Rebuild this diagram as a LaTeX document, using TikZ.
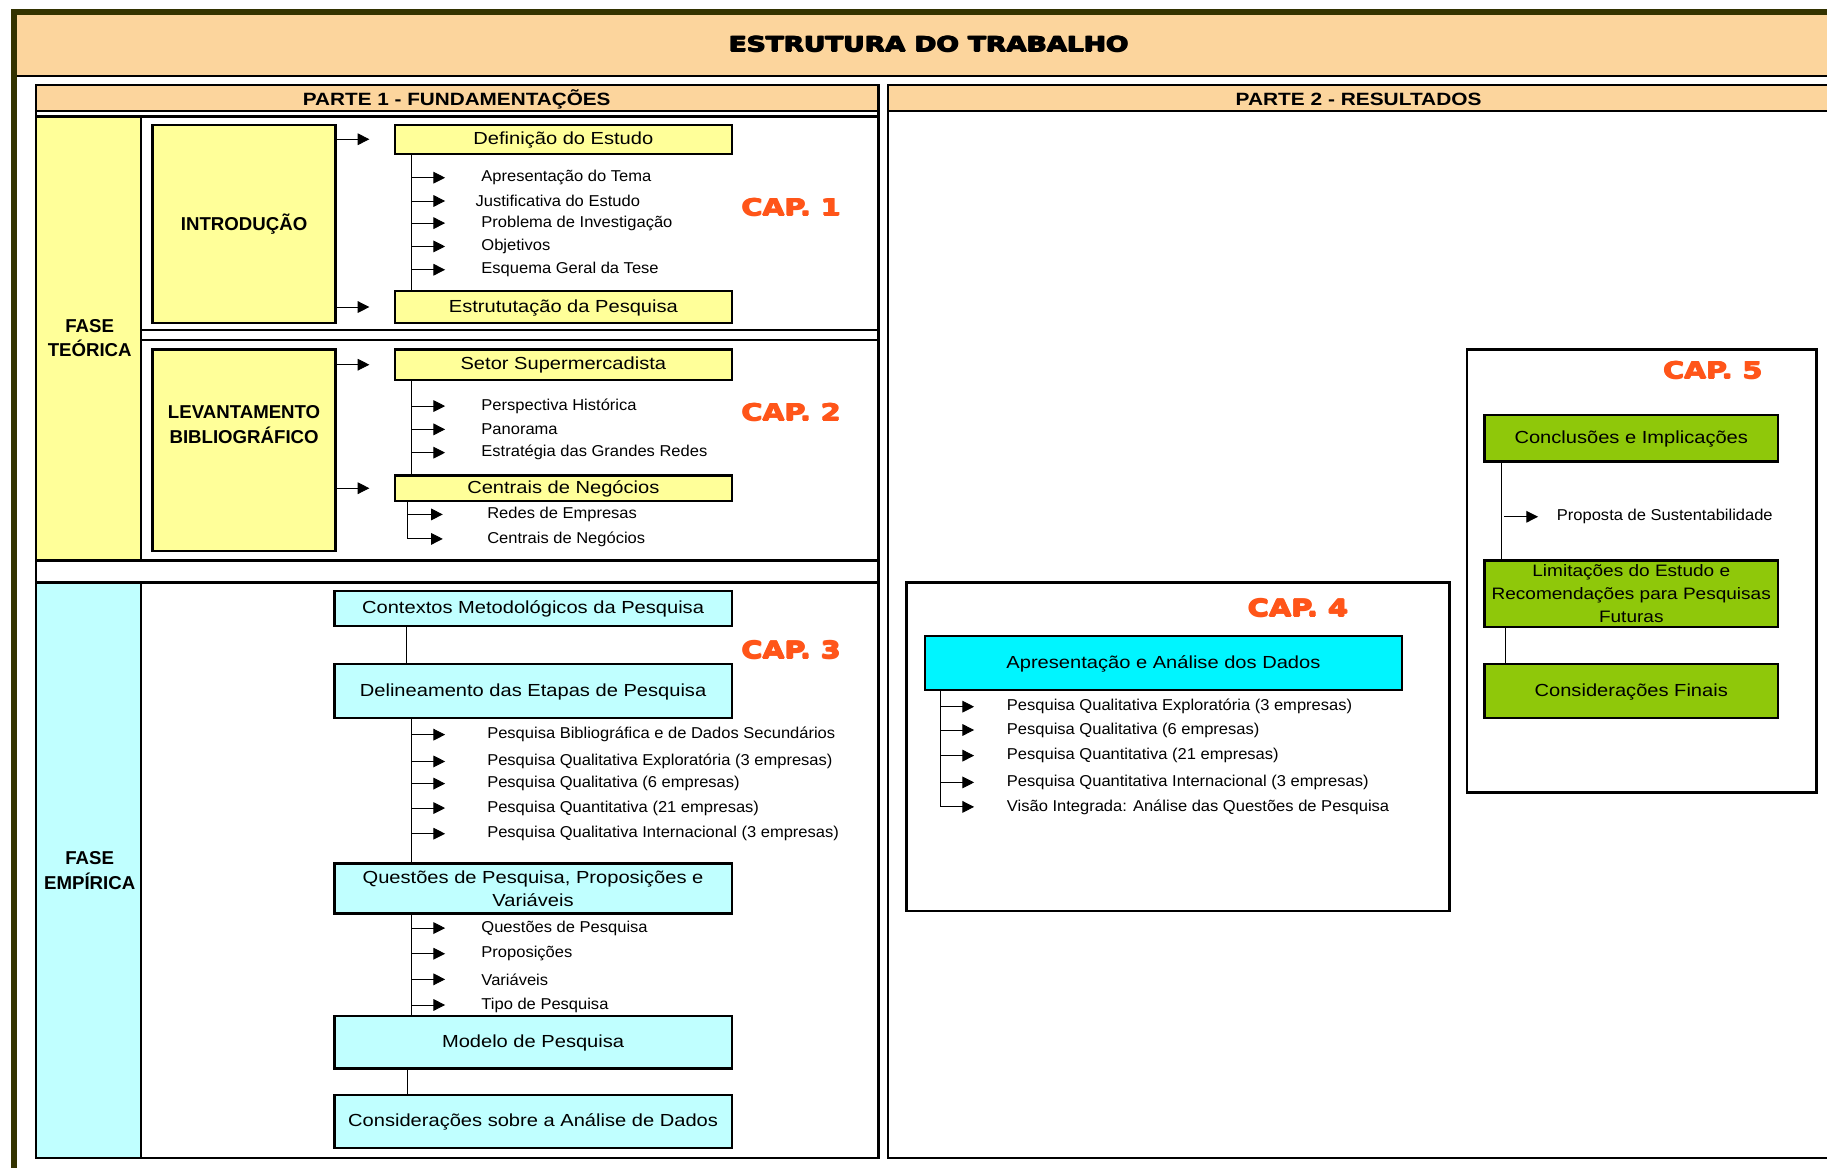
\documentclass[tikz,border=0pt]{standalone}
\usepackage{fontspec}
\usepackage{graphicx}
\setmainfont{Liberation Sans}
\newfontfamily\hfont{Liberation Sans}[FakeStretch=1.15]
\newfontfamily\ifont{Liberation Sans}[FakeStretch=1.05]
\newfontfamily\heavy{DejaVu Sans Bold}
\usetikzlibrary{arrows.meta}

\definecolor{frame}{RGB}{51,51,0}
\definecolor{hdr}{RGB}{252,213,157}
\definecolor{yel}{RGB}{255,255,153}
\definecolor{lcyan}{RGB}{192,255,255}
\definecolor{bcyan}{RGB}{0,245,255}
\definecolor{grn}{RGB}{143,200,10}
\definecolor{capred}{RGB}{255,85,25}

% thicken a box by overprinting shifted copies (#1 = offset)
\newcommand\smear[2]{\setbox4=\hbox{#2}%
  \rlap{\copy4}\rlap{\kern#1\copy4}%
  \rlap{\kern0.5\dimexpr#1\relax\raise0.5\dimexpr#1\relax\copy4}%
  \kern0.5\dimexpr#1\relax\lower0.5\dimexpr#1\relax\copy4\kern0.5\dimexpr#1\relax}
% scale a one-line text to a given width and cap height
\newcommand\fitto[4]{{#3\setbox0=\hbox{#4}\setbox2=\hbox{H}%
  \pgfmathsetmacro\fsx{#1/\the\wd0}\pgfmathsetmacro\fsy{#2/\the\ht2}%
  \scalebox{\fsx}[\fsy]{\box0}}}

\begin{document}
\begin{tikzpicture}[x=1pt,y=-1pt,
  box/.style={draw=black, line width=2pt},
  hbox/.style={box, font=\hfont\fontsize{15}{19.5}\selectfont, align=center, inner sep=0pt},
  hbox1/.style={hbox, text height=1.05em, text depth=0.15em},
  item/.style={anchor=west, inner sep=0pt, font=\ifont\fontsize{13.5}{16}\selectfont},
  lab/.style={font=\bfseries\fontsize{16}{21}\selectfont, align=center, inner sep=0pt},
  caplab/.style={inner sep=0pt, text=capred},
  conn/.style={line width=0.8pt},
  arr/.style={conn, -{Triangle[length=10pt,width=10pt]}}]

\useasboundingbox (0,0) rectangle (1568,1002);
\clip (0,0) rectangle (1568,1002);
\fill[white] (0,0) rectangle (1568,1002);

% outer frame and title band
\fill[hdr] (14,12) rectangle (1590,65);
\draw[line width=1.8pt] (14,65) -- (1590,65);
\draw[frame, line width=5pt] (12,1010) -- (12,10) -- (1590,10);
\node[inner sep=0pt] (title) at (797,38)
  {\smear{1.3pt}{\fitto{343}{13}{\heavy\fontsize{16}{16}\selectfont}{ESTRUTURA DO TRABALHO}}};

% part 1 container
\draw[box] (31,73) rectangle (754,994);
\filldraw[box, fill=hdr] (31,73) rectangle (754,95);
\node[inner sep=0pt] (p1) at (392,85)
  {\fitto{264}{10.5}{\bfseries\fontsize{14}{14}\selectfont}{PARTE 1 - FUNDAMENTAÇÕES}};

% part 2 container
\draw[box] (762,73) rectangle (1590,994);
\filldraw[box, fill=hdr] (762,73) rectangle (1590,95);
\node[inner sep=0pt] (p2) at (1166,85)
  {\fitto{211}{10.5}{\bfseries\fontsize{14}{14}\selectfont}{PARTE 2 - RESULTADOS}};

% theoretical phase
\filldraw[box, fill=yel] (31,100) rectangle (121,481);
\draw[box] (121,100) rectangle (754,283);
\draw[box] (121,292) rectangle (754,481);
\node[lab] (fteo) at (77,290) {FASE\\TEÓRICA};

% empirical phase
\filldraw[box, fill=lcyan] (31,500) rectangle (121,994);
\draw[box] (121,500) rectangle (754,994);
\node[lab] (femp) at (77,747) {FASE\\EMPÍRICA};

% common x positions of spines and arrow tips
\coordinate (s1) at (353,0);
\coordinate (t1) at (382,0);
\coordinate (s2) at (350,0);
\coordinate (t2) at (380,0);
\coordinate (s3) at (349,0);

% ---- chapter 1
\node[box, fill=yel, minimum width=157, minimum height=170, lab] (intro) at (209.5,192) {INTRODUÇÃO};
\node[hbox1, fill=yel, minimum width=289, minimum height=25] (defi) at (483.5,119.5) {Definição do Estudo};
\node[hbox1, fill=yel, minimum width=289, minimum height=27] (estr) at (483.5,263.5) {Estrututação da Pesquisa};
\draw[arr] (intro.east |- defi) -- ([xshift=-21pt]defi.west);
\draw[arr] (intro.east |- estr) -- ([xshift=-21pt]estr.west);
\draw[conn] (defi.south -| s1) -- (estr.north -| s1);
\node[item] (i11) at (413,152.5) {Apresentação do Tema};
\node[item] (i12) at (408,172.5) {Justificativa do Estudo};
\node[item] (i13) at (413,191.5) {Problema de Investigação};
\node[item] (i14) at (413,211.5) {Objetivos};
\node[item] (i15) at (413,231.5) {Esquema Geral da Tese};
\foreach \n in {i11,i12,i13,i14,i15} \draw[arr] (\n -| s1) -- (\n -| t1);
\node[caplab] (cap1) at (679,178) {\smear{1.2pt}{\fitto{85}{14.5}{\heavy\fontsize{20}{20}\selectfont}{CAP. 1}}};

% ---- chapter 2
\node[box, fill=yel, minimum width=157, minimum height=173] (levbox) at (209.5,386.5) {};
\node[lab] (levtxt) at (209.5,364.5) {LEVANTAMENTO\\BIBLIOGRÁFICO};
\node[hbox1, fill=yel, minimum width=289, minimum height=26] (setor) at (483.5,313) {Setor Supermercadista};
\node[hbox1, fill=yel, minimum width=289, minimum height=22] (centr) at (483.5,419) {Centrais de Negócios};
\draw[arr] (levbox.east |- setor) -- ([xshift=-21pt]setor.west);
\draw[arr] (levbox.east |- centr) -- ([xshift=-21pt]centr.west);
\draw[conn] (setor.south -| s1) -- (centr.north -| s1);
\node[item] (i21) at (413,348.5) {Perspectiva Histórica};
\node[item] (i22) at (413,368.5) {Panorama};
\node[item] (i23) at (413,388.5) {Estratégia das Grandes Redes};
\foreach \n in {i21,i22,i23} \draw[arr] (\n -| s1) -- (\n -| t1);
\node[item] (i24) at (418,441.5) {Redes de Empresas};
\node[item] (i25) at (418,462.5) {Centrais de Negócios};
\draw[conn] (centr.south -| s2) -- (i25 -| s2);
\foreach \n in {i24,i25} \draw[arr] (\n -| s2) -- (\n -| t2);
\node[caplab] (cap2) at (679,354) {\smear{1.2pt}{\fitto{85}{14.5}{\heavy\fontsize{20}{20}\selectfont}{CAP. 2}}};

% ---- chapter 3
\node[hbox1, fill=lcyan, minimum width=341, minimum height=30] (ctx) at (457.5,522) {Contextos Metodológicos da Pesquisa};
\node[hbox1, fill=lcyan, minimum width=341, minimum height=46] (delin) at (457.5,593) {Delineamento das Etapas de Pesquisa};
\node[hbox, fill=lcyan, minimum width=341, minimum height=43] (quest) at (457.5,762.5) {Questões de Pesquisa, Proposições e\\Variáveis};
\node[hbox1, fill=lcyan, minimum width=341, minimum height=45] (model) at (457.5,894.5) {Modelo de Pesquisa};
\node[hbox1, fill=lcyan, minimum width=341, minimum height=45] (consid) at (457.5,962.5) {Considerações sobre a Análise de Dados};
\draw[conn] (ctx.south -| s3) -- (delin.north -| s3);
\draw[conn] (delin.south -| s1) -- (quest.north -| s1);
\draw[conn] (quest.south -| s1) -- (model.north -| s1);
\draw[conn] (model.south -| s2) -- (consid.north -| s2);
\node[item] (i31) at (418,630.5) {Pesquisa Bibliográfica e de Dados Secundários};
\node[item] (i32) at (418,653.5) {Pesquisa Qualitativa Exploratória (3 empresas)};
\node[item] (i33) at (418,672.5) {Pesquisa Qualitativa (6 empresas)};
\node[item] (i34) at (418,693.5) {Pesquisa Quantitativa (21 empresas)};
\node[item] (i35) at (418,715.5) {Pesquisa Qualitativa Internacional (3 empresas)};
\node[item] (i36) at (413,796.5) {Questões de Pesquisa};
\node[item] (i37) at (413,818.5) {Proposições};
\node[item] (i38) at (413,840.5) {Variáveis};
\node[item] (i39) at (413,862.5) {Tipo de Pesquisa};
\foreach \n in {i31,i32,i33,i34,i35,i36,i37,i38,i39} \draw[arr] (\n -| s1) -- (\n -| t1);
\node[caplab] (cap3) at (679,558) {\smear{1.2pt}{\fitto{85}{14.5}{\heavy\fontsize{20}{20}\selectfont}{CAP. 3}}};

% ---- chapter 4
\draw[box] (778,500) rectangle (1244,782);
\node[caplab] (cap4) at (1114,522) {\smear{1.2pt}{\fitto{86}{14.5}{\heavy\fontsize{20}{20}\selectfont}{CAP. 4}}};
\node[hbox1, fill=bcyan, minimum width=409, minimum height=46] (apres) at (998.5,569) {Apresentação e Análise dos Dados};
\coordinate (s4) at (807,0);
\coordinate (t4) at (836,0);
\node[item] (i41) at (864,606.5) {Pesquisa Qualitativa Exploratória (3 empresas)};
\node[item] (i42) at (864,626.5) {Pesquisa Qualitativa (6 empresas)};
\node[item] (i43) at (864,648.5) {Pesquisa Quantitativa (21 empresas)};
\node[item] (i44) at (864,671.5) {Pesquisa Quantitativa Internacional (3 empresas)};
\node[item] (i45) at (864,692.5) {Visão Integrada: Análise das Questões de Pesquisa};
\draw[conn] (apres.south -| s4) -- (i45 -| s4);
\foreach \n in {i41,i42,i43,i44,i45} \draw[arr] (\n -| s4) -- (\n -| t4);

% ---- chapter 5
\draw[box] (1259,300) rectangle (1559,680);
\node[caplab] (cap5) at (1470,318) {\smear{1.2pt}{\fitto{85}{14.5}{\heavy\fontsize{20}{20}\selectfont}{CAP. 5}}};
\node[hbox1, fill=grn, minimum width=252, minimum height=40] (concl) at (1400,376) {Conclusões e Implicações};
\node[hbox, fill=grn, minimum width=252, minimum height=57, font=\hfont\fontsize{14.2}{19.5}\selectfont] (limit) at (1400,509.5) {Limitações do Estudo e\\Recomendações para Pesquisas\\Futuras};
\node[hbox1, fill=grn, minimum width=252, minimum height=46] (consf) at (1400,593) {Considerações Finais};
\coordinate (s5) at (1289,0);
\coordinate (s6) at (1292,0);
\coordinate (t5) at (1320,0);
\draw[conn] (concl.south -| s5) -- (limit.north -| s5);
\draw[conn] (limit.south -| s6) -- (consf.north -| s6);
\node[item] (i51) at (1336,443.5) {Proposta de Sustentabilidade};
\draw[arr] ([xshift=2pt]i51 -| s5) -- (i51 -| t5);
\end{tikzpicture}
\end{document}
